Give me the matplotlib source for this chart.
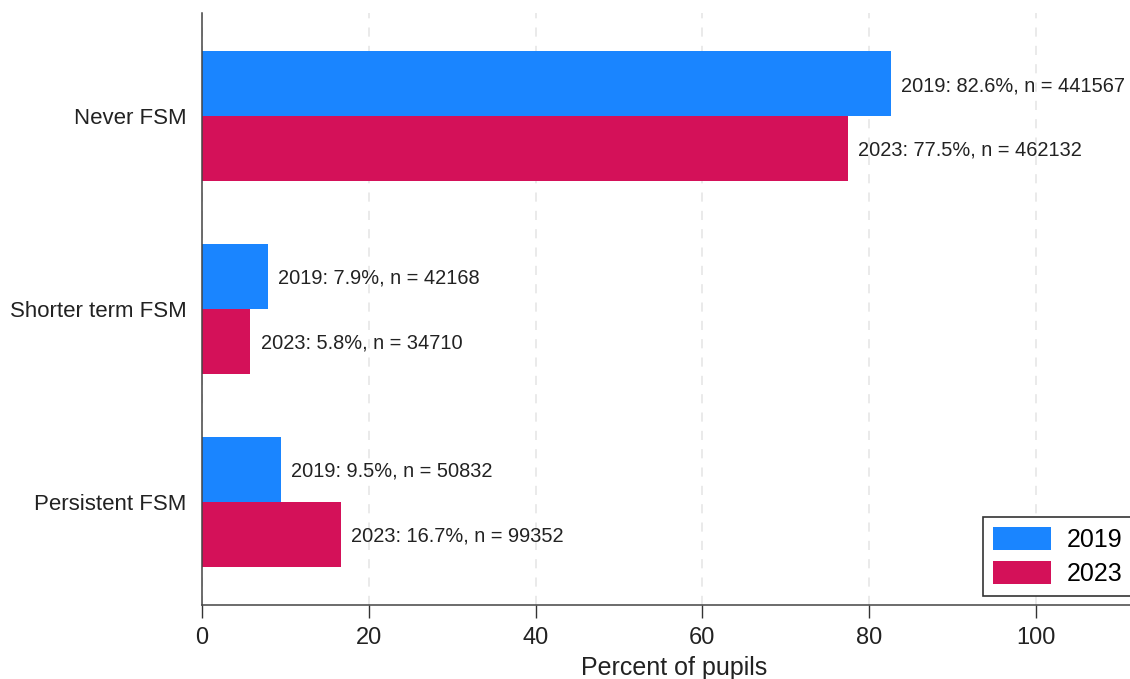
import matplotlib
matplotlib.use("Agg")
import matplotlib.pyplot as plt
import numpy as np

categories = ["Never FSM", "Shorter term FSM", "Persistent FSM"]
years = ["2019", "2023"]
pct_2019 = [82.6, 7.9, 9.5]
pct_2023 = [77.5, 5.8, 16.7]
n_2019 = [441567, 42168, 50832]
n_2023 = [462132, 34710, 99352]
xticks = [0, 20, 40, 60, 80, 100]

plt.rcParams['font.family'] = ['Liberation Sans', 'DejaVu Sans']
blue = "#1A85FF"
red = "#D41159"

fig = plt.figure(figsize=(11.3, 6.79), dpi=100)
ax_right_px = 1146
ax = fig.add_axes([202/1130, 74/679, (ax_right_px - 202)/1130, (605-13)/679])

y = np.arange(len(categories))
h = 65/193
b1 = ax.barh(y - h/2, pct_2019, height=h, color=blue, label=years[0], zorder=2)
b2 = ax.barh(y + h/2, pct_2023, height=h, color=red, label=years[1], zorder=2)

for yi, p, n in zip(y, pct_2019, n_2019):
    ax.annotate(f"{years[0]}: {p}%, n = {n}", xy=(p, yi - h/2), xytext=(7.3, 0),
                textcoords="offset points", va="center_baseline", ha="left",
                fontsize=14.4, color="#222222")
for yi, p, n in zip(y, pct_2023, n_2023):
    ax.annotate(f"{years[1]}: {p}%, n = {n}", xy=(p, yi + h/2), xytext=(7.3, 0),
                textcoords="offset points", va="center_baseline", ha="left",
                fontsize=14.4, color="#222222")

ax.set_xlim(0, (ax_right_px - 202)/8.34)
ax.set_ylim(2 + 103/193, -103/193)
ax.set_yticks(y)
ax.set_yticklabels(categories, fontsize=16, color="#222222")
ax.set_xticks(xticks)
ax.set_xticklabels([str(t) for t in xticks], fontsize=17, color="#222222")
ax.tick_params(axis="y", length=0, pad=11)
ax.tick_params(axis="x", length=9, width=1, color="#333333", pad=7)
ax.set_xlabel("Percent of pupils", fontsize=18, color="#222222", labelpad=5)

for s in ["top", "right"]:
    ax.spines[s].set_visible(False)
for s in ["left", "bottom"]:
    ax.spines[s].set_color("#444444")
    ax.spines[s].set_linewidth(1.1)

ax.set_axisbelow(True)
ax.xaxis.grid(True, linestyle=(0, (6, 6)), color="#e4e4e4", linewidth=1.1)

leg = fig.legend(handles=[b1, b2], labels=years, loc="lower left",
                 bbox_to_anchor=(983/1130, (679-596)/679), fontsize=18,
                 frameon=True, fancybox=False, framealpha=1, edgecolor="#333333",
                 handlelength=2.3, handleheight=1.05, handletextpad=0.65,
                 borderpad=0.4, labelspacing=0.35, borderaxespad=0)
leg.get_frame().set_linewidth(1.2)

fig.savefig("out.png", dpi=100)
